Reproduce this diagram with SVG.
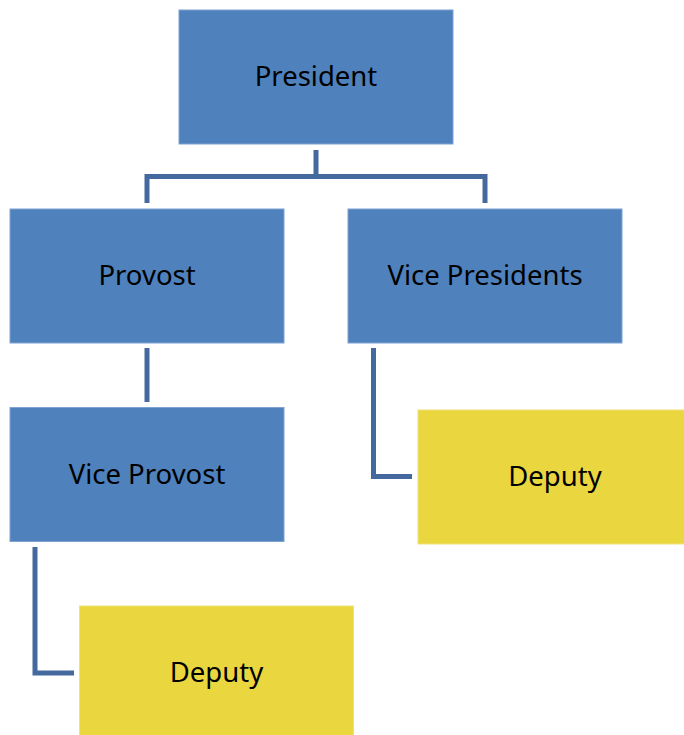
<svg xmlns="http://www.w3.org/2000/svg" width="684" height="735" viewBox="0 0 684 735">
<style>
.blue{fill:#4F81BD;stroke:#7FA2D0;stroke-width:1}
.yel{fill:#EAD63F;stroke:#F0E27A;stroke-width:1}
.lbl{font-family:"Noto Sans","Open Sans",sans-serif;font-size:27.5px;fill:#000;text-anchor:middle}
.conn{fill:none;stroke:#44699E;stroke-width:5;stroke-linejoin:miter}
</style>
<rect width="684" height="735" fill="#fff"/>
<g id="connectors">
<path class="conn" d="M316 150V176.5M147 203V176.5H485V203"/>
<path class="conn" d="M147 348V402"/>
<path class="conn" d="M373.5 348V476.5H412"/>
<path class="conn" d="M35 547V673H74"/>
</g>
<g id="president"><rect class="blue" x="179" y="10" width="274" height="134"/><text class="lbl" x="316" y="86">President</text></g>
<g id="provost"><rect class="blue" x="10" y="209" width="274" height="134"/><text class="lbl" x="147" y="285">Provost</text></g>
<g id="vice-presidents"><rect class="blue" x="348" y="209" width="274" height="134"/><text class="lbl" x="485" y="285">Vice Presidents</text></g>
<g id="vice-provost"><rect class="blue" x="10" y="407.5" width="274" height="134"/><text class="lbl" x="147" y="484">Vice Provost</text></g>
<g id="deputy-vp"><rect class="yel" x="418" y="410" width="274" height="134"/><text class="lbl" x="555" y="486">Deputy</text></g>
<g id="deputy-provost"><rect class="yel" x="79.5" y="606" width="274" height="134"/><text class="lbl" x="216.5" y="682">Deputy</text></g>
</svg>
